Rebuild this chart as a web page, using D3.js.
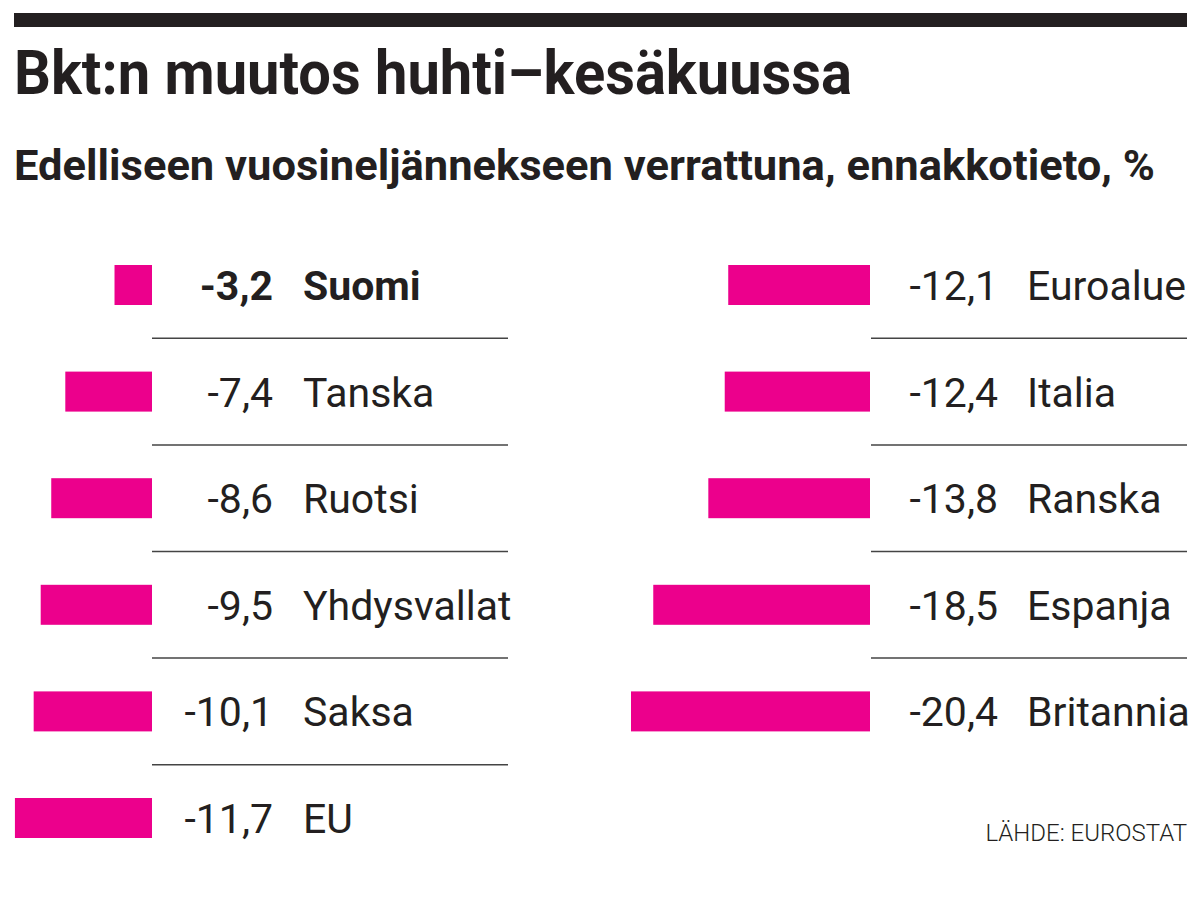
<!DOCTYPE html>
<html lang="fi">
<head>
  <meta charset="UTF-8" />
  <title>Bkt:n muutos huhti–kesäkuussa</title>
  <script src="https://d3js.org/d3.v7.min.js"></script>
  <style>
    body {
      margin: 0;
      padding: 0;
      background: white;
    }
    svg {
      display: block;
      font-family: Roboto, "Noto Sans", sans-serif;
    }
  </style>
</head>
<body>
  <svg id="chart" width="1200" height="900"></svg>

  <script>
    // Data: two columns, read top to bottom
    const leftCountries = ["Suomi", "Tanska", "Ruotsi", "Yhdysvallat", "Saksa", "EU"];
    const leftValues = [-3.2, -7.4, -8.6, -9.5, -10.1, -11.7];
    const rightCountries = ["Euroalue", "Italia", "Ranska", "Espanja", "Britannia"];
    const rightValues = [-12.1, -12.4, -13.8, -18.5, -20.4];
    const highlight = "Suomi";

    const title = "Bkt:n muutos huhti–kesäkuussa";
    const subtitle = "Edelliseen vuosineljännekseen verrattuna, ennakkotieto, %";
    const source = "LÄHDE: EUROSTAT";

    const pink = "#ec008c";
    const ink = "#231f20";

    const svg = d3.select("#chart");

    const fi = d3.formatLocale({
      decimal: ",", thousands: "\u00a0", grouping: [3], currency: ["", " €"], minus: "-"
    });
    const fmt = fi.format(".1f");

    // top rule
    svg.append("rect")
      .attr("x", 14).attr("y", 13)
      .attr("width", 1173).attr("height", 14)
      .attr("fill", ink);

    svg.append("text")
      .attr("x", 14).attr("y", 94)
      .attr("textLength", 838)
      .attr("lengthAdjust", "spacingAndGlyphs")
      .style("font-size", "62px")
      .style("font-weight", "bold")
      .attr("fill", ink)
      .text(title);

    svg.append("text")
      .attr("x", 14).attr("y", 180)
      .attr("textLength", 1141)
      .attr("lengthAdjust", "spacingAndGlyphs")
      .style("font-size", "42px")
      .style("font-weight", "bold")
      .attr("fill", ink)
      .text(subtitle);

    // shared scales
    const y = d3.scaleLinear().domain([0, 5]).range([285, 818]);
    const step = y(1) - y(0);
    const w = d3.scaleLinear().domain([0, 20.4]).range([0, 239]);
    const barH = 40;

    function drawColumn(names, values, opt) {
      const rows = names.map((n, i) => ({ name: n, value: values[i], i: i }));
      const g = svg.append("g");

      g.selectAll("rect.bar")
        .data(rows)
        .enter()
        .append("rect")
        .attr("class", "bar")
        .attr("x", d => opt.barEnd - w(Math.abs(d.value)))
        .attr("y", d => y(d.i) - barH / 2)
        .attr("width", d => w(Math.abs(d.value)))
        .attr("height", barH)
        .attr("fill", pink);

      g.selectAll("text.val")
        .data(rows)
        .enter()
        .append("text")
        .attr("class", "val")
        .attr("x", opt.valEnd)
        .attr("y", d => y(d.i) + 15)
        .attr("text-anchor", "end")
        .style("font-size", "41px")
        .style("font-weight", d => d.name === highlight ? "bold" : "normal")
        .attr("fill", ink)
        .text(d => fmt(d.value));

      g.selectAll("text.name")
        .data(rows)
        .enter()
        .append("text")
        .attr("class", "name")
        .attr("x", opt.labelX)
        .attr("y", d => y(d.i) + 15)
        .style("font-size", "41px")
        .style("font-weight", d => d.name === highlight ? "bold" : "normal")
        .attr("fill", ink)
        .text(d => d.name);

      // separators between rows
      g.selectAll("line")
        .data(rows.slice(0, -1))
        .enter()
        .append("line")
        .attr("x1", opt.lineX1).attr("x2", opt.lineX2)
        .attr("y1", d => y(d.i) + step / 2)
        .attr("y2", d => y(d.i) + step / 2)
        .attr("stroke", "#444")
        .attr("stroke-width", 1.5);
    }

    drawColumn(leftCountries, leftValues, {
      barEnd: 152, valEnd: 273, labelX: 303, lineX1: 152, lineX2: 508
    });
    drawColumn(rightCountries, rightValues, {
      barEnd: 870, valEnd: 998, labelX: 1027, lineX1: 871, lineX2: 1187
    });

    svg.append("text")
      .attr("x", 1187).attr("y", 841)
      .attr("text-anchor", "end")
      .style("font-size", "24px")
      .style("font-weight", 300)
      .attr("fill", ink)
      .text(source);
  </script>
</body>
</html>
